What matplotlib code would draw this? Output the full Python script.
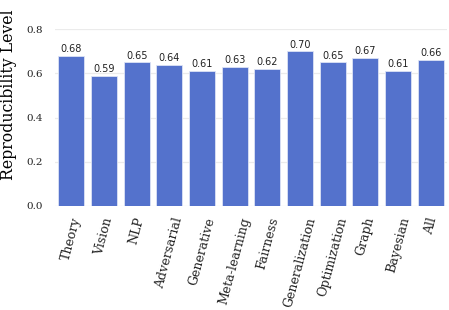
import matplotlib
matplotlib.use("Agg")
import matplotlib.pyplot as plt
import numpy as np

categories = ["Theory", "Vision", "NLP", "Adversarial", "Generative", "Meta-learning",
              "Fairness", "Generalization", "Optimization", "Graph", "Bayesian", "All"]
values = [0.68, 0.59, 0.65, 0.64, 0.61, 0.63, 0.62, 0.70, 0.65, 0.67, 0.61, 0.66]
yticks = [0.0, 0.2, 0.4, 0.6, 0.8]

plt.rcParams['font.family'] = ['DejaVu Serif']

fig = plt.figure(figsize=(4.49, 3.10), dpi=100)
ax = fig.add_axes([0.1225, 0.3355, 0.873, 0.57])

x = np.arange(len(categories))
ax.bar(x, values, width=0.8, color='#5472cc', edgecolor='#dce3f5', linewidth=0.6, zorder=2)

# value labels on top of each bar
for xi, v in zip(x, values):
    ax.text(xi, v + 0.008, f'{v:.2f}', ha='center', va='bottom',
            fontsize=7, family='DejaVu Sans', color='#222222')

ax.set_xlim(-0.5, len(categories) - 0.5)
ax.set_ylim(0, 0.8)
ax.set_yticks(yticks)
ax.set_yticklabels([f'{t:.1f}' for t in yticks], fontsize=7.5, color='#222222')
ax.set_xticks(x)
ax.set_xticklabels(categories, rotation=75, ha='center', fontsize=9, color='#222222')
ax.tick_params(axis='y', length=0, pad=9)
ax.tick_params(axis='x', length=0, pad=7)

ax.grid(axis='y', color='#ebebeb', linewidth=0.9, zorder=0)
for s in ax.spines.values():
    s.set_visible(False)

ax.set_ylabel('Reproducibility Level', fontsize=11.3)
ax.yaxis.set_label_coords(-0.097, 0.632)

fig.savefig('out.png', dpi=100)
